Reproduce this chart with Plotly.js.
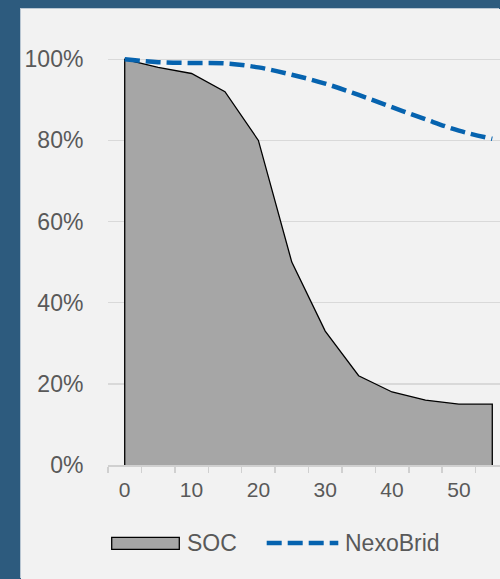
<!DOCTYPE html>
<html><head><meta charset="utf-8">
<script src="https://cdn.plot.ly/plotly-3.0.1.min.js"></script>
<style>
html,body{margin:0;padding:0;overflow:hidden;width:500px;height:579px;background:#2d5b7e;}
#panel{position:absolute;left:21px;top:9px;width:479px;height:570px;background:#f2f2f2;box-shadow:-1px -1px 0 #b9c6d2;}
#chart{position:absolute;left:0;top:0;width:520px;height:579px;}
</style></head><body>
<div id="panel"></div><div id="chart"></div>
<script>
const days = [0, 5, 10, 15, 20, 25, 30, 35, 40, 45, 50, 55];
const soc = [100, 98, 96.5, 92, 80, 50, 33, 22, 18, 16, 15, 15];
const nexobrid = [100, 99.3, 99.1, 99, 98, 96.2, 94, 91.2, 88.2, 85.2, 82.4, 80.4];
const yTicks = [0, 20, 40, 60, 80, 100];
const yTickLabels = ['0%', '20%', '40%', '60%', '80%', '100%'];
const xTicks = [0, 10, 20, 30, 40, 50];
const seriesNames = ['SOC', 'NexoBrid'];

const W = 520, H = 579;
const M = {l: 108, r: 11, t: 39, b: 114};
const pw = W - M.l - M.r, ph = H - M.t - M.b;
const px2x = p => (p - M.l) / pw;
const py2y = p => (H - M.b - p) / ph;

const textColor = '#595959';
const font = 'Liberation Sans, Arial, sans-serif';
const blue = '#0663af';
const dashStyle = '15px,6px';

// outline: closed on left & right sides, open at bottom
const outlineX = [days[0]].concat(days, [days[days.length - 1]]);
const outlineY = [0].concat(soc, [0]);

const traces = [
  {x: days, y: soc, type: 'scatter', mode: 'lines', fill: 'tozeroy',
   fillcolor: '#a6a6a6', line: {width: 0, color: '#a6a6a6'}, name: seriesNames[0],
   showlegend: false, hoverinfo: 'skip'},
  {x: outlineX, y: outlineY, type: 'scatter', mode: 'lines',
   line: {width: 1.3, color: '#000000'}, showlegend: false, hoverinfo: 'skip'},
  {x: days, y: nexobrid, type: 'scatter', mode: 'lines', name: seriesNames[1],
   line: {width: 4.5, color: blue, dash: dashStyle, shape: 'spline', smoothing: 1},
   showlegend: false}
];

const layout = {
  width: W, height: H,
  margin: M,
  paper_bgcolor: 'rgba(0,0,0,0)',
  plot_bgcolor: 'rgba(0,0,0,0)',
  font: {family: font, color: textColor, size: 23},
  showlegend: false,
  xaxis: {
    range: [-2.5, 57.5], tickvals: xTicks, ticktext: xTicks.map(String),
    ticks: 'outside', ticklen: 5, tickcolor: 'rgba(0,0,0,0)',
    tickfont: {size: 21, color: textColor, family: font},
    showgrid: false, zeroline: false,
    showline: true, linecolor: '#d0d0d0', linewidth: 2,
    minor: {tick0: -2.5, dtick: 5, ticks: 'outside', ticklen: 6,
            tickcolor: '#d0d0d0', tickwidth: 1.5, showgrid: false},
    fixedrange: true
  },
  yaxis: {
    range: [0, 105], tickvals: yTicks, ticktext: yTickLabels,
    ticks: 'outside', ticklen: 19, tickcolor: 'rgba(0,0,0,0)',
    tickfont: {size: 23, color: textColor, family: font},
    showgrid: true, gridcolor: '#d9d9d9', gridwidth: 1.3,
    zeroline: false, showline: false, fixedrange: true
  },
  shapes: [
    {type: 'rect', xref: 'paper', yref: 'paper',
     x0: px2x(111.7), x1: px2x(179.3), y0: py2y(549.3), y1: py2y(537.3),
     fillcolor: '#a6a6a6', line: {color: '#000000', width: 1.3}},
    {type: 'line', xref: 'paper', yref: 'paper',
     x0: px2x(266.7), x1: px2x(338.3), y0: py2y(543), y1: py2y(543),
     line: {color: blue, width: 4.5, dash: dashStyle}}
  ],
  annotations: [
    {text: seriesNames[0], xref: 'paper', yref: 'paper', x: px2x(185), y: py2y(543),
     xanchor: 'left', yanchor: 'middle', showarrow: false,
     font: {size: 23, color: textColor, family: font}},
    {text: seriesNames[1], xref: 'paper', yref: 'paper', x: px2x(343), y: py2y(543),
     xanchor: 'left', yanchor: 'middle', showarrow: false,
     font: {size: 23, color: textColor, family: font}}
  ]
};

Plotly.newPlot('chart', traces, layout, {displayModeBar: false, staticPlot: true});
</script>
</body></html>
